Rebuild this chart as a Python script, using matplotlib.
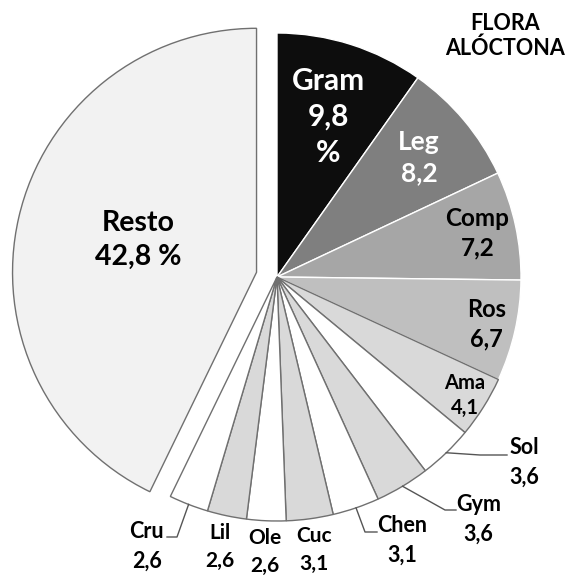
import numpy as np
import matplotlib
matplotlib.use("Agg")
import matplotlib.pyplot as plt

plt.rcParams['font.family'] = ['Lato', 'DejaVu Sans']
plt.rcParams['font.weight'] = 'bold'

# familias de flora alóctona (%), en sentido horario desde arriba
familias = ['Gram', 'Leg', 'Comp', 'Ros', 'Ama', 'Sol', 'Gym', 'Chen',
            'Cuc', 'Ole', 'Lil', 'Cru', 'Resto']
porcentajes = [9.8, 8.2, 7.2, 6.7, 4.1, 3.6, 3.6, 3.1, 3.1, 2.6, 2.6, 2.6, 42.8]
titulo = 'FLORA\nALÓCTONA'

colores = ['#0d0d0d', '#7f7f7f', '#a6a6a6', '#bfbfbf', '#d9d9d9', '#ffffff',
           '#d9d9d9', '#ffffff', '#d9d9d9', '#ffffff', '#d9d9d9', '#ffffff',
           '#f2f2f2']
bordes = ['white'] * 4 + ['#707070'] * 9

W, H = 571, 576
cx, cy, R = 277, 277, 244

fig = plt.figure(figsize=(W / 100, H / 100), dpi=100)
ax = fig.add_axes([0, 0, 1, 1])

explode = [0] * 12 + [21]
wedges, _ = ax.pie(porcentajes, colors=colores,
                   startangle=-90, counterclock=True, radius=R,
                   center=(cx, cy), explode=explode,
                   wedgeprops=dict(linewidth=1.0))
for w, ec in zip(wedges, bordes):
    w.set_edgecolor(ec)

ax.set_xlim(0, W)
ax.set_ylim(H, 0)
ax.set_aspect('auto')
ax.axis('off')


def fmt(v):
    return ('%.1f' % v).replace('.', ',')


def mid(w, r):
    t = np.radians(0.5 * (w.theta1 + w.theta2))
    return cx + r * np.cos(t), cy + r * np.sin(t)


# etiquetas interiores: (fracción de radio, tamaño, color)
interior = {'Gram': (0.69, 21.5, 'white'), 'Leg': (0.76, 19, 'white'),
            'Comp': (0.84, 17.5, 'black'), 'Ros': (0.88, 17, 'black'),
            'Ama': (0.91, 14.5, 'black')}
# etiquetas exteriores sin línea guía
exterior = {'Cuc': 1.13, 'Ole': 1.13, 'Lil': 1.13}
# etiquetas con línea guía: codo, fin de línea, posición del texto, alineación
guias = {'Sol': ((480, 455), (507, 455), (509, 462), 'left'),
         'Gym': ((445, 510), (456, 510), (456, 519), 'left'),
         'Chen': ((365, 532), (377, 532), (377, 540), 'left'),
         'Cru': ((177, 537), (167, 537), (164, 546), 'right')}

for w, nom, v in zip(wedges, familias, porcentajes):
    if nom in interior:
        f, s, c = interior[nom]
        x, y = mid(w, f * R)
        txt = nom + '\n' + fmt(v) + ('\n%' if nom == 'Gram' else '')
        ax.text(x, y, txt, ha='center', va='center', fontsize=s, color=c,
                linespacing=1.35, fontweight='bold')
    elif nom in exterior:
        x, y = mid(w, exterior[nom] * R)
        ax.text(x, y, nom + '\n' + fmt(v), ha='center', va='center',
                fontsize=15, linespacing=1.5, fontweight='bold')
    elif nom in guias:
        codo, fin, pos, al = guias[nom]
        x0, y0 = mid(w, R)
        ax.plot([x0, codo[0], fin[0]], [y0, codo[1], fin[1]],
                color='#555555', lw=1.0)
        ax.text(pos[0], pos[1], nom + '\n' + fmt(v), ha=al, va='center',
                fontsize=15.5, linespacing=1.5, fontweight='bold',
                multialignment='center')
    elif nom == 'Resto':
        ax.text(138, 240, nom + '\n' + fmt(v) + ' %', ha='center',
                va='center', fontsize=20.5, linespacing=1.4,
                fontweight='bold')

ax.text(505, 36, titulo, ha='center', va='center', fontsize=15.5,
        linespacing=1.25, fontweight='bold')

fig.savefig('out.png', dpi=100)
